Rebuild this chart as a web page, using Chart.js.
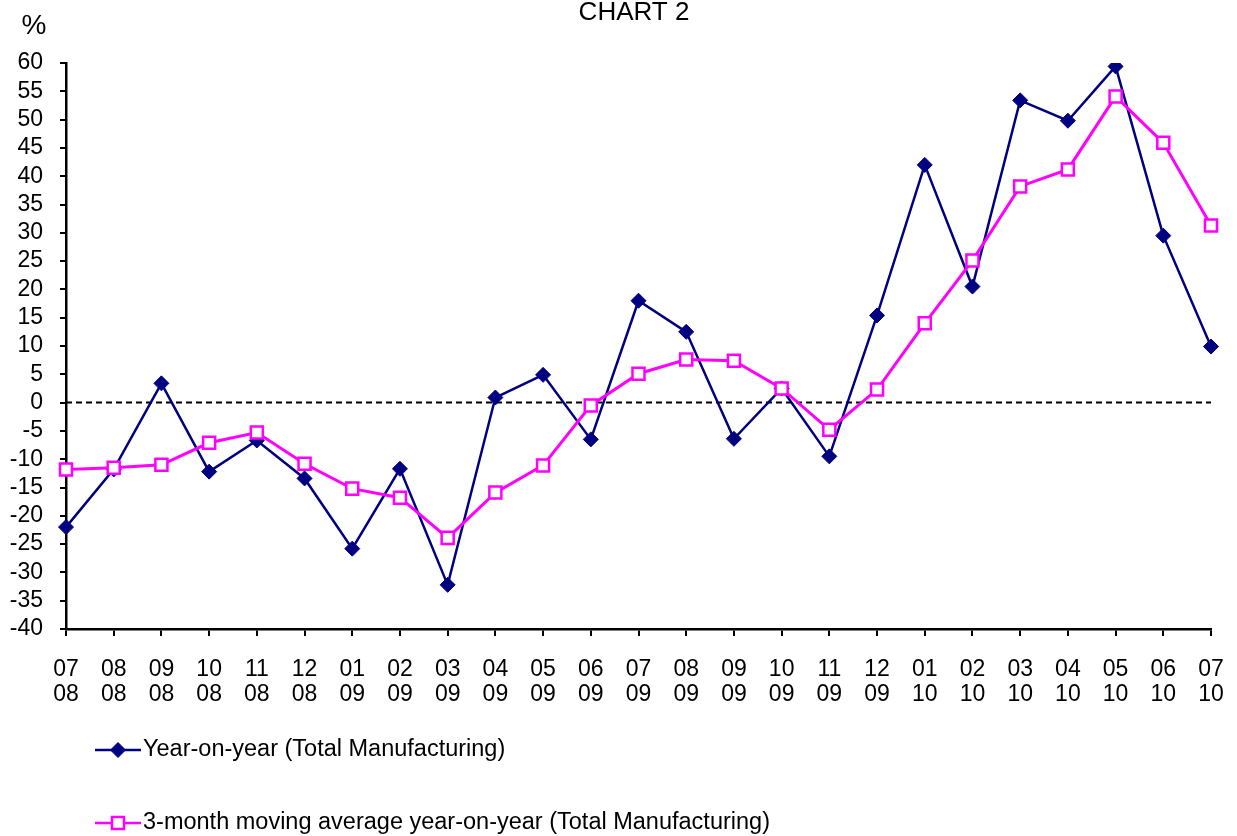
<!DOCTYPE html>
<html>
<head>
<meta charset="utf-8">
<script src="https://cdn.jsdelivr.net/npm/chart.js@4/dist/chart.umd.min.js"></script>
<style>
  body { margin: 0; background: #fff; }
  #wrap { width: 1237px; height: 836px; position: relative; }
</style>
</head>
<body>
<div id="wrap"><canvas id="chart"></canvas></div>
<script>
// month / year labels (two rows under the axis)
const months = ["07","08","09","10","11","12","01","02","03","04","05","06","07","08","09","10","11","12","01","02","03","04","05","06","07"];
const years  = ["08","08","08","08","08","08","09","09","09","09","09","09","09","09","09","09","09","09","10","10","10","10","10","10","10"];

const yoyData = [-22, -11.8, 3.4, -12.2, -6.7, -13.4, -25.8, -11.7, -32.2, 0.9, 4.9, -6.5, 18.0, 12.5, -6.4, 2.5, -9.5, 15.4, 42.0, 20.5, 53.4, 49.8, 59.4, 29.5, 9.9];
const avgData = [-11.8, -11.5, -11.0, -7.1, -5.3, -10.8, -15.2, -16.8, -23.9, -15.9, -11.1, -0.5, 5.1, 7.6, 7.4, 2.5, -4.8, 2.3, 14.0, 25.1, 38.2, 41.2, 54.1, 45.9, 31.3];

const yTicks = { min: -40, max: 60, step: 5 };

const FONT = "Arial, 'Liberation Sans', sans-serif";
const labels = months.map((m, i) => [m, years[i]]);

// title, % unit, zero line and legend
const extras = {
  id: "extras",
  beforeDatasetsDraw(chart) {
    const ctx = chart.ctx;
    const y0 = chart.scales.y.getPixelForValue(0);
    ctx.save();
    ctx.strokeStyle = "#000";
    ctx.lineWidth = 2;
    ctx.setLineDash([6, 4]);
    ctx.beginPath();
    ctx.moveTo(chart.chartArea.left, y0);
    ctx.lineTo(chart.chartArea.right, y0);
    ctx.stroke();
    ctx.restore();
  },
  afterDraw(chart) {
    const ctx = chart.ctx;
    ctx.save();
    ctx.fillStyle = "#000";
    ctx.font = "26px " + FONT;
    ctx.textAlign = "center";
    ctx.textBaseline = "middle";
    ctx.fillText("CHART 2", 634, 13);
    ctx.font = "28px " + FONT;
    ctx.fillText("%", 34, 26);

    // legend
    const rows = [750, 823];
    chart.data.datasets.forEach((ds, i) => {
      const y = rows[i];
      ctx.strokeStyle = ds.borderColor;
      ctx.lineWidth = 2.5;
      ctx.setLineDash([]);
      ctx.beginPath();
      ctx.moveTo(95, y);
      ctx.lineTo(141, y);
      ctx.stroke();
      ctx.fillStyle = ds.pointBackgroundColor;
      ctx.lineWidth = ds.pointBorderWidth;
      ctx.beginPath();
      if (ds.pointStyle === "rectRot") {
        const r = ds.pointRadius;
        ctx.moveTo(118, y - r); ctx.lineTo(118 + r, y); ctx.lineTo(118, y + r); ctx.lineTo(118 - r, y);
      } else {
        const s = ds.pointRadius * Math.SQRT1_2;
        ctx.rect(118 - s, y - s, 2 * s, 2 * s);
      }
      ctx.closePath();
      ctx.fill();
      ctx.stroke();
      ctx.fillStyle = "#000";
      ctx.font = "23.5px " + FONT;
      ctx.textAlign = "left";
      ctx.fillText(ds.label, 143, y);
    });
    ctx.restore();
  }
};

new Chart(document.getElementById("chart"), {
  type: "line",
  data: {
    labels: labels,
    datasets: [
      {
        label: "Year-on-year (Total Manufacturing)",
        data: yoyData,
        order: 1,
        borderColor: "#000080",
        borderWidth: 2.5,
        pointStyle: "rectRot",
        pointRadius: 7.5,
        pointBackgroundColor: "#000080",
        pointBorderColor: "#000080",
        pointBorderWidth: 1,
        tension: 0
      },
      {
        label: "3-month moving average year-on-year (Total Manufacturing)",
        data: avgData,
        order: 0,
        borderColor: "#FF00FF",
        borderWidth: 3,
        pointStyle: "rect",
        pointRadius: 8.5,
        pointBackgroundColor: "#FFFFFF",
        pointBorderColor: "#FF00FF",
        pointBorderWidth: 2.5,
        tension: 0
      }
    ]
  },
  options: {
    responsive: true,
    maintainAspectRatio: false,
    animation: false,
    layout: { padding: { top: 63, right: 26, bottom: 0, left: 0 } },
    plugins: {
      legend: { display: false },
      tooltip: { enabled: false }
    },
    scales: {
      x: {
        offset: false,
        afterFit: (s) => { s.height = 207; s.paddingRight = 0; s.paddingLeft = 0; },
        grid: { drawOnChartArea: false, drawTicks: true, tickLength: 7, color: "#000", lineWidth: 2 },
        border: { display: true, color: "#000", width: 2.5 },
        ticks: {
          autoSkip: false, maxRotation: 0, color: "#000", padding: 22,
          font: { family: FONT, size: 23, lineHeight: 1.05 }
        }
      },
      y: {
        min: yTicks.min,
        max: yTicks.max,
        afterFit: (s) => { s.width = 66; },
        grid: { drawOnChartArea: false, drawTicks: true, tickLength: 6, color: "#000", lineWidth: 2 },
        border: { display: true, color: "#000", width: 2.5 },
        ticks: {
          stepSize: yTicks.step, autoSkip: false, color: "#000", padding: 17,
          font: { family: FONT, size: 23 }
        }
      }
    }
  },
  plugins: [extras]
});
</script>
</body>
</html>
